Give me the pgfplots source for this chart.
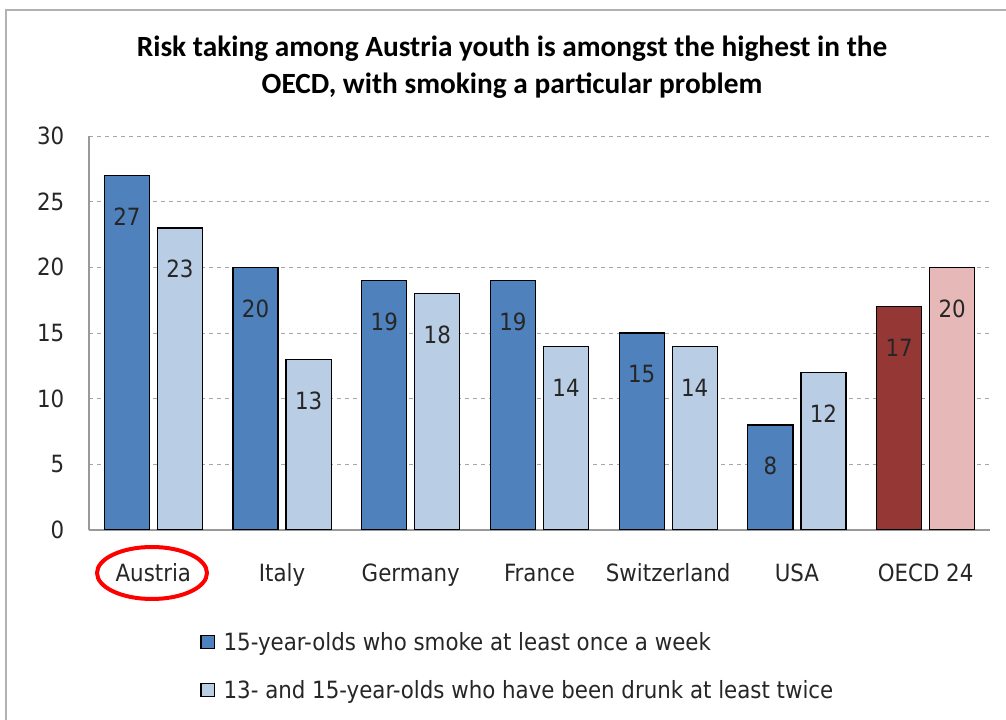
\documentclass[border=0pt]{standalone}
\usepackage{pgfplots}
\pgfplotsset{compat=1.18}
\usepackage{fontspec}
\setmainfont{DejaVu Sans Condensed}
\newfontfamily\titlefont{Carlito}
\definecolor{dblue}{HTML}{4F81BD}
\definecolor{lblue}{HTML}{B9CDE5}
\definecolor{dred}{HTML}{953735}
\definecolor{lpink}{HTML}{E6B9B8}
\begin{document}
\begin{tikzpicture}[x=0.75pt,y=0.75pt]
\useasboundingbox (0,0) rectangle (1006,720);
\draw[gray!60, line width=1.5pt] (6,0) -- (6,710) -- (1006,710);
\node[font=\titlefont\bfseries\fontsize{22}{27.75}\selectfont, align=center] at (512,720-67) {Risk taking among Austria youth is amongst the highest in the\\OECD, with smoking a particular problem};
\begin{axis}[
  at={(66.75pt,142.5pt)}, anchor=south west,
  width=675.75pt, height=295.5pt, scale only axis,
  xmin=-0.5, xmax=6.5, ymin=0, ymax=30,
  ytick={0,5,...,30},
  xtick={0,...,6},
  xticklabels={Austria,Italy,Germany,France,Switzerland,USA,OECD 24},
  /pgf/number format/assume math mode=true,
  axis lines*=left,
  axis line style={gray!80, line width=1pt},
  ymajorgrids, grid style={dashed, gray!70, line width=0.6pt},
  major tick length=0pt,
  ticklabel style={font=\fontsize{17.8}{20}\selectfont, text=black!85},
  xticklabel style={anchor=base, yshift=-38.5pt},
  yticklabel style={anchor=east, xshift=-15pt},
  ybar, bar width=0.35,
  nodes near coords,
  every node near coord/.append style={font=\fontsize{17.8}{20}\selectfont, text=black!85, anchor=base, yshift=-37.5pt},
  legend style={draw=none, at={(0.119,-0.245)}, anchor=north west, font=\fontsize{17.8}{20}\selectfont, row sep=17pt, text=black!85},
  legend cell align=left,
  legend image code/.code={\draw[#1,draw=black,line width=0.8pt] (0pt,-5pt) rectangle (10pt,5pt); \path (14.5pt,0pt);},
]
\addplot[fill=dblue, draw=black, line width=0.9pt, bar shift=-0.206] coordinates {(0,27) (1,20) (2,19) (3,19) (4,15) (5,8)};
\addlegendentry{15-year-olds who smoke at least once a week}
\addplot[fill=lblue, draw=black, line width=0.9pt, bar shift=0.206] coordinates {(0,23) (1,13) (2,18) (3,14) (4,14) (5,12)};
\addlegendentry{13- and 15-year-olds who have been drunk at least twice}
\addplot[fill=dred, draw=black, line width=0.9pt, bar shift=-0.206, forget plot] coordinates {(6,17)};
\addplot[fill=lpink, draw=black, line width=0.9pt, bar shift=0.206, forget plot] coordinates {(6,20)};
\end{axis}
\draw[red, line width=3pt] (152,720-573) ellipse [x radius=55, y radius=26];
\end{tikzpicture}
\end{document}
